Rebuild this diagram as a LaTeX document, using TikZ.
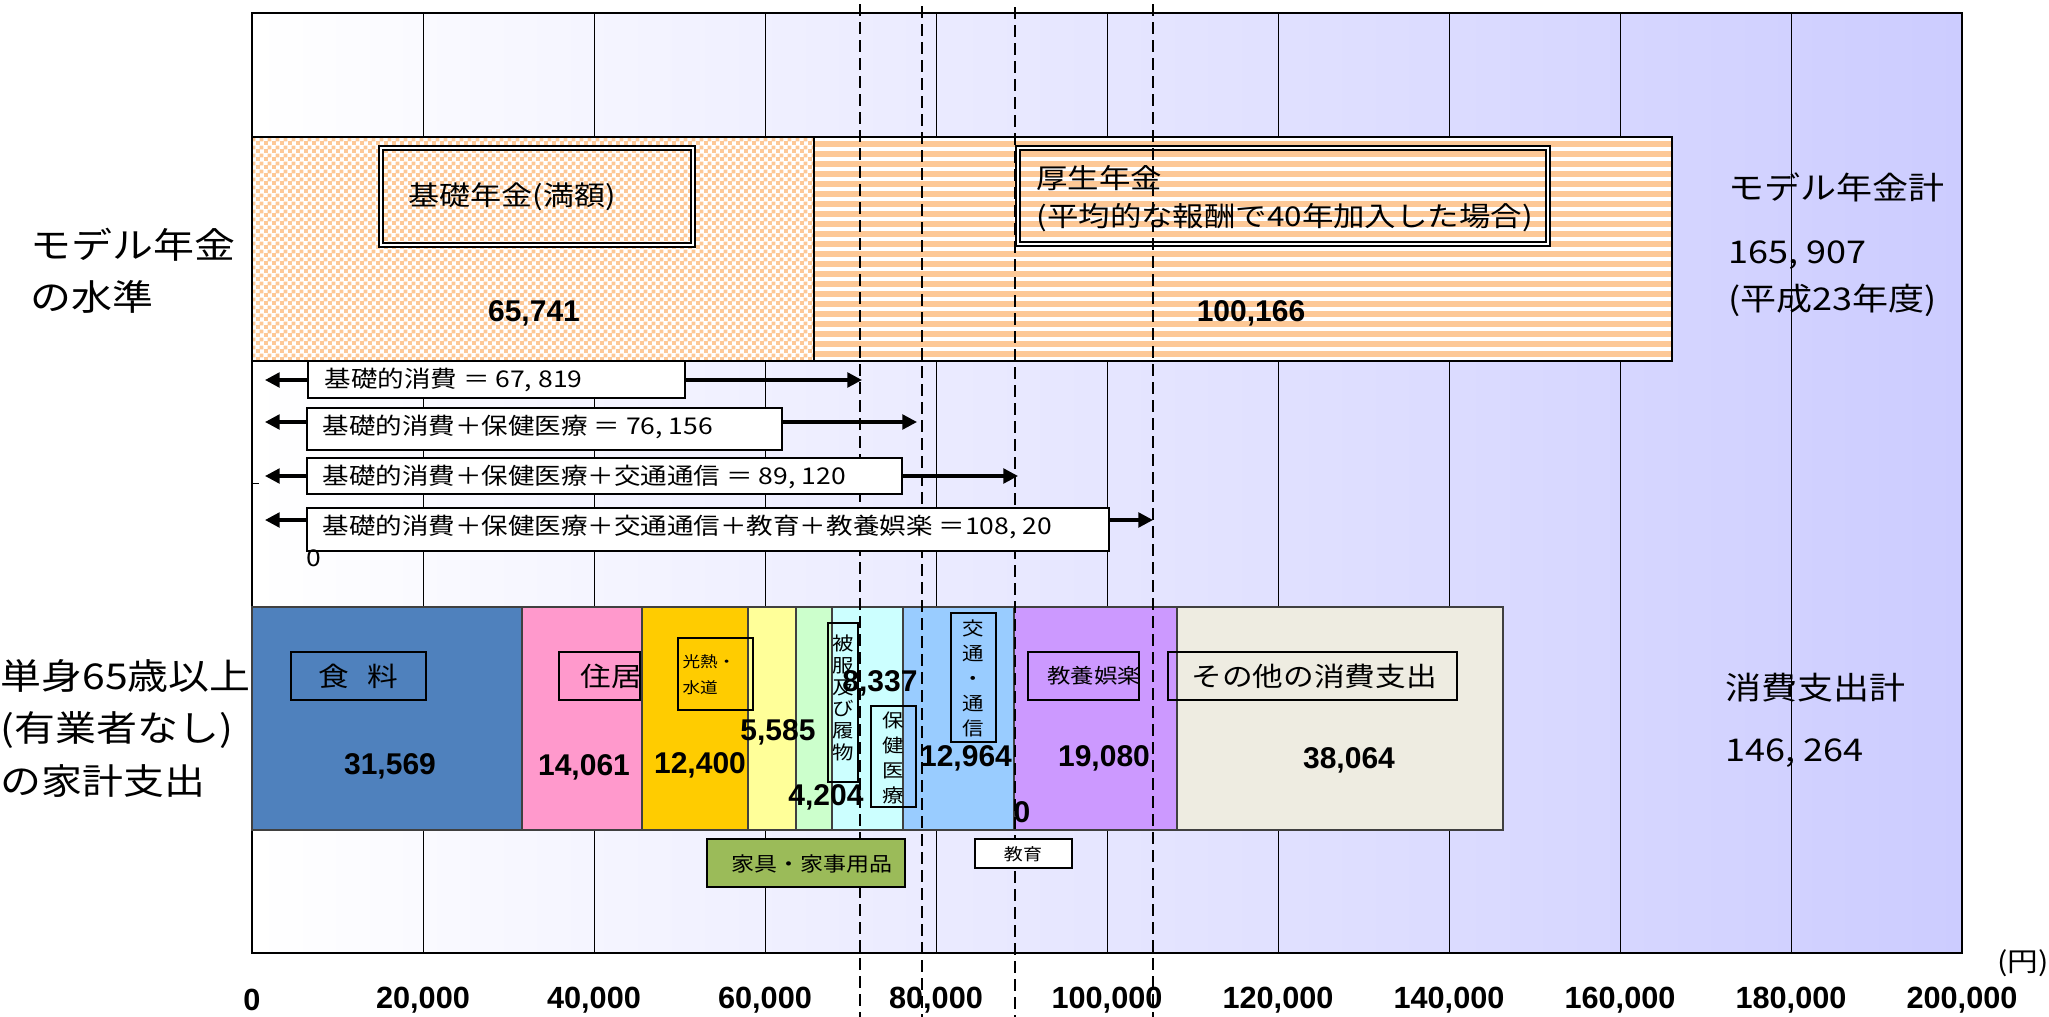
\documentclass[tikz,border=0pt]{standalone}
\usepackage{fontspec}
\setmainfont[FakeStretch=1.15]{Noto Sans CJK JP}
\newfontfamily\numfont{Liberation Sans}
\usetikzlibrary{arrows.meta,patterns}

\definecolor{bgR}{RGB}{204,204,255}
\definecolor{penOr}{RGB}{253,200,150}
\definecolor{cFood}{RGB}{79,129,189}
\definecolor{cHouse}{RGB}{255,153,204}
\definecolor{cUtil}{RGB}{255,204,0}
\definecolor{cFurn}{RGB}{255,255,153}
\definecolor{cCloth}{RGB}{204,255,204}
\definecolor{cMed}{RGB}{204,255,255}
\definecolor{cTrans}{RGB}{153,204,255}
\definecolor{cCult}{RGB}{204,153,255}
\definecolor{cOther}{RGB}{238,236,225}
\definecolor{cFurnBox}{RGB}{155,187,89}

% checker used for the basic pension
\pgfdeclarepatternformonly{penchecker}{\pgfqpoint{0pt}{0pt}}{\pgfqpoint{6pt}{6pt}}{\pgfqpoint{6pt}{6pt}}{
  \pgfpathrectangle{\pgfqpoint{0pt}{0pt}}{\pgfqpoint{3.3pt}{3.3pt}}
  \pgfpathrectangle{\pgfqpoint{3pt}{3pt}}{\pgfqpoint{3.3pt}{3.3pt}}
  \pgfusepath{fill}
}

\tikzset{every picture/.style={line width=0.75pt}}
\tikzset{
  valnum/.style={font=\numfont\bfseries\fontsize{22.5}{27}\selectfont},
  axnum/.style={font=\numfont\bfseries\fontsize{23}{27}\selectfont},
  spanarrow/.style={line width=2.5pt,{Triangle[length=11pt,width=11pt]}-{Triangle[length=11pt,width=11pt]}},
  sumbox/.style={fill=white,draw=black,line width=1.5pt},
  sumtxt/.style={anchor=west,inner sep=0,font=\fontsize{17.3}{22}\selectfont},
  tagbox/.style={draw=black,line width=1.5pt},
  segment/.style={draw=black!75,line width=1.2pt},
  guide/.style={line width=2pt,dash pattern=on 9pt off 4.5pt},
  bigtxt/.style={anchor=west,inner sep=0,font=\fontsize{23.5}{28}\selectfont},
}

\begin{document}
\begin{tikzpicture}[x=0.75pt,y=0.75pt,yscale=-1,xscale=1]
\useasboundingbox (0,0) rectangle (2049,1017);

%Shape: Rectangle (plot background)
\shade[left color=white,right color=bgR] (252,13) rectangle (1962,953);
%Straight Lines (grid)
\draw (423,13) -- (423,953);
\draw (594,13) -- (594,953);
\draw (765,13) -- (765,953);
\draw (936,13) -- (936,953);
\draw (1107,13) -- (1107,953);
\draw (1278,13) -- (1278,953);
\draw (1449,13) -- (1449,953);
\draw (1620,13) -- (1620,953);
\draw (1791,13) -- (1791,953);
%Shape: Rectangle (frame)
\draw[line width=1.5pt] (252,13) rectangle (1962,953);

%Shape: Rectangle (basic pension)
\fill[white] (252,137) rectangle (814,361);
\fill[pattern=penchecker,pattern color=penOr] (252,137) rectangle (814,361);
%Shape: Rectangle (employees pension)
\fill[white] (814,137) rectangle (1672,361);
\foreach \y in {141,151,...,351} \fill[penOr] (814,\y) rectangle (1672,\y+5.5);
\draw[line width=1.5pt] (252,137) rectangle (814,361);
\draw[line width=1.5pt] (814,137) rectangle (1672,361);

%Shape: Rectangle (double boxes)
\draw[double,double distance=2.2pt,line width=1.2pt] (381,148) rectangle (693,245);
\draw[double,double distance=2.2pt,line width=1.2pt] (1018,148) rectangle (1548,244);

% Text Node
\draw (512,197) node (kiso) [font=\fontsize{20.25}{24}\selectfont] {基礎年金(満額)};
% Text Node
\draw (1036,199) node (kosei) [anchor=west,align=left,inner sep=0,font=\fontsize{20.5}{28.5}\selectfont] {厚生年金\\(平均的な報酬で40年加入した場合)};
% Text Node
\draw (534,313) node (vKiso) [valnum] {65,741};
% Text Node
\draw (1251,313) node (vKosei) [valnum] {100,166};
% Text Node
\draw (1728,187) node (modelLbl) [bigtxt] {モデル年金計};
\draw (1728,255) node (modelSum) [bigtxt] {165, 907};
\draw (1728,300) node (modelYear) [bigtxt] {(平成23年度)};

% Text Node (row labels)
\draw (30,271) node (pensionLbl) [anchor=west,align=left,inner sep=0,font=\fontsize{26.7}{39}\selectfont] {モデル年金\\の水準};
\draw (0,728) node (budgetLbl) [anchor=west,align=left,inner sep=0,font=\fontsize{26.7}{39.4}\selectfont] {単身65歳以上\\(有業者なし)\\の家計支出};

%Shape: Rectangle (expenditure segments)
\draw[segment,fill=cFood] (252,607) rectangle (522,830);
\draw[segment,fill=cHouse] (522,607) rectangle (642,830);
\draw[segment,fill=cUtil] (642,607) rectangle (748,830);
\draw[segment,fill=cFurn] (748,607) rectangle (796,830);
\draw[segment,fill=cCloth] (796,607) rectangle (832,830);
\draw[segment,fill=cMed] (832,607) rectangle (903,830);
\draw[segment,fill=cTrans] (903,607) rectangle (1014,830);
\draw[segment,fill=cCult] (1014,607) rectangle (1177,830);
\draw[segment,fill=cOther] (1177,607) rectangle (1503,830);

%Straight Lines (dashed guides)
\draw[guide] (860,4) -- (860,1017);
\draw[guide] (922,6) -- (922,1017);
\draw[guide] (1015,7) -- (1015,1017);
\draw[guide] (1153,4) -- (1153,1017);

%Straight Lines (tick)
\draw (253,483) -- (259,483);

%Arrows and sum boxes
\coordinate (s1L) at (265,380);
\coordinate (s1R) at (862,380);
\draw[spanarrow] (s1L) -- (s1R);
\draw[sumbox] (308,361) rectangle (685,398);
\draw (324,380) node (s1) [sumtxt] {基礎的消費 ＝ 67, 819};

\coordinate (s2L) at (265,422);
\coordinate (s2R) at (917,422);
\draw[spanarrow] (s2L) -- (s2R);
\draw[sumbox] (307,408) rectangle (782,450);
\draw (322,427) node (s2) [sumtxt] {基礎的消費＋保健医療 ＝ 76, 156};

\coordinate (s3L) at (265,476);
\coordinate (s3R) at (1018,476);
\draw[spanarrow] (s3L) -- (s3R);
\draw[sumbox] (307,458) rectangle (902,494);
\draw (322,477) node (s3) [sumtxt] {基礎的消費＋保健医療＋交通通信 ＝ 89, 120};

\coordinate (s4L) at (265,520);
\coordinate (s4R) at (1153,520);
\draw[spanarrow] (s4L) -- (s4R);
\draw[sumbox] (307,508) rectangle (1109,551);
\draw (322,527) node (s4) [sumtxt] {基礎的消費＋保健医療＋交通通信＋教育＋教養娯楽 ＝108, 20};
\draw (306,558) node (s4wrap) [sumtxt] {0};

%Shape: Rectangle (category tags)
\draw[tagbox] (291,652) rectangle (426,700);
\draw[tagbox] (559,652) rectangle (640,700);
\draw[tagbox] (678,638) rectangle (753,710);
\draw[tagbox] (828,623) rectangle (858,782);
\draw[tagbox] (871,706) rectangle (916,807);
\draw[tagbox] (951,613) rectangle (996,742);
\draw[tagbox] (1028,652) rectangle (1139,700);
\draw[tagbox] (1168,652) rectangle (1457,700);
\draw[tagbox,fill=cFurnBox] (707,839) rectangle (905,887);
\draw[tagbox,fill=white] (975,839) rectangle (1072,868);

% Text Node (category names)
\draw (358,676) node (tFood) [font=\fontsize{20}{24}\selectfont] {食\hspace{0.7em}料};
\draw (611,676) node (tHouse) [font=\fontsize{20}{24}\selectfont] {住居};
\draw (682,675) node (tUtil) [anchor=west,align=left,inner sep=0,font=\fontsize{11.5}{19.5}\selectfont] {光熱・\\水道};
\draw (843,698) node (tCloth) [align=center,inner sep=0,font=\fontsize{14}{16.3}\selectfont] {被\\服\\及\\び\\履\\物};
\draw (893,758) node (tMed) [align=center,inner sep=0,font=\fontsize{14}{18.75}\selectfont] {保\\健\\医\\療};
\draw (973,678) node (tTrans) [align=center,inner sep=0,font=\fontsize{14}{18.75}\selectfont] {交\\通\\・\\通\\信};
\draw (1094,676) node (tCult) [font=\fontsize{15.3}{18}\selectfont] {教養娯楽};
\draw (1314,676) node (tOther) [font=\fontsize{20}{24}\selectfont] {その他の消費支出};
\draw (812,864) node (tFurn) [font=\fontsize{15}{18}\selectfont] {家具・家事用品};
\draw (1023,854) node (tEdu) [font=\fontsize{12.4}{15}\selectfont] {教育};

% Text Node (values)
\draw (390,766) node (vFood) [valnum] {31,569};
\draw (584,767) node (vHouse) [valnum] {14,061};
\draw (700,765) node (vUtil) [valnum] {12,400};
\draw (778,732) node (vFurn) [valnum] {5,585};
\draw (826,797) node (vCloth) [valnum] {4,204};
\draw (880,683) node (vMed) [valnum] {8,337};
\draw (966,758) node (vTrans) [valnum] {12,964};
\draw (1022,812) node (vEdu) [valnum] {0};
\draw (1104,758) node (vCult) [valnum] {19,080};
\draw (1349,760) node (vOther) [valnum] {38,064};

% Text Node (expenditure total)
\draw (1725,688) node (spendLbl) [bigtxt] {消費支出計};
\draw (1725,753) node (spendSum) [bigtxt] {146, 264};

% Text Node (axis)
\draw (2049,963) node (unit) [anchor=east,inner sep=0,font=\fontsize{20}{24}\selectfont] {(円)};
\draw (252,1000) node (ax0) [axnum] {0};
\draw (423,1000) node (ax1) [axnum] {20,000};
\draw (594,1000) node (ax2) [axnum] {40,000};
\draw (765,1000) node (ax3) [axnum] {60,000};
\draw (936,1000) node (ax4) [axnum] {80,000};
\draw (1107,1000) node (ax5) [axnum] {100,000};
\draw (1278,1000) node (ax6) [axnum] {120,000};
\draw (1449,1000) node (ax7) [axnum] {140,000};
\draw (1620,1000) node (ax8) [axnum] {160,000};
\draw (1791,1000) node (ax9) [axnum] {180,000};
\draw (1962,1000) node (ax10) [axnum] {200,000};

\end{tikzpicture}
\end{document}
